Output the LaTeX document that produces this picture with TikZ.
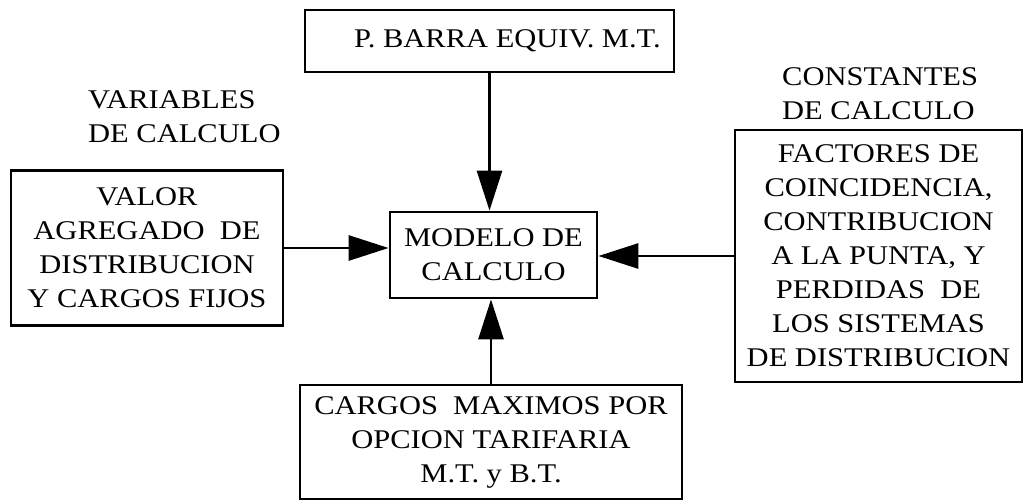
\documentclass[tikz,border=0pt]{standalone}
\usepackage{fontspec}
\setmainfont{Liberation Serif}[FakeStretch=1.13]
\usetikzlibrary{arrows.meta}

\begin{document}
\begin{tikzpicture}[x=1pt,y=-1pt,
    caja/.style={draw,line width=2.8pt,rectangle,inner sep=0pt,align=center},
    rotulo/.style={anchor=west,align=left,inner sep=0pt},
    flecha/.style={line width=2.8pt,-{Triangle[length=40pt,width=25pt]}},
    font=\fontsize{27}{34}\selectfont]
    \useasboundingbox (0,0) rectangle (1030,503);
    %% cajas
    \node[caja,minimum width=369pt,minimum height=62pt] (barra) at (489.5,41) {\hspace*{36pt}P. BARRA EQUIV. M.T.};
    \node[caja,minimum width=272pt,minimum height=155pt] (valor) at (147,248)
        {VALOR\\AGREGADO\ \ DE\\DISTRIBUCION\\Y CARGOS FIJOS};
    \node[caja,minimum width=207pt,minimum height=86pt] (modelo) at (493.5,255) {MODELO DE\\CALCULO};
    \node[caja,minimum width=287pt,minimum height=252pt] (factores) at (878.5,256)
        {FACTORES DE\\COINCIDENCIA,\\CONTRIBUCION\\A LA PUNTA, Y\\PERDIDAS\ \ DE\\LOS SISTEMAS\\DE DISTRIBUCION};
    \node[caja,minimum width=382pt,minimum height=114pt] (cargos) at (491,442)
        {CARGOS\ \ MAXIMOS POR\\OPCION TARIFARIA\\M.T. y B.T.};
    % rotulos
    \node[rotulo] (variables) at (88,116.5) {VARIABLES\\DE CALCULO};
    \node[rotulo] (constantes) at (782,93.5) {CONSTANTES\\DE CALCULO};
    % flechas
    \draw[flecha] (barra.south) -- (barra |- modelo.north);
    \draw[flecha] (valor.east) -- (valor -| modelo.west);
    \draw[flecha] (factores.west) -- (factores -| modelo.east);
    \draw[flecha] (cargos.north) -- (cargos |- modelo.south);
\end{tikzpicture}
\end{document}
